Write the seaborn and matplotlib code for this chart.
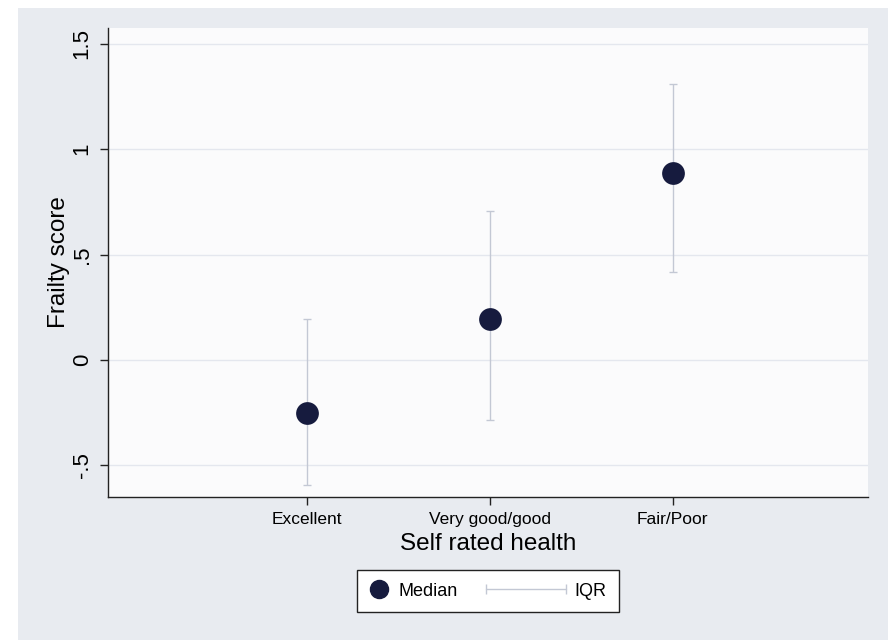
import pandas as pd
import matplotlib.pyplot as plt
import numpy as np
import seaborn as sns
from matplotlib.lines import Line2D
from matplotlib.legend_handler import HandlerBase

# Values
categories = ['Excellent', 'Very good/good', 'Fair/Poor']
median = [-0.255, 0.195, 0.885]
iqr_low = [-0.595, -0.285, 0.415]
iqr_high = [0.195, 0.705, 1.31]
y_ticks = [-0.5, 0, 0.5, 1, 1.5]
y_tick_labels = ['-.5', '0', '.5', '1', '1.5']

df = pd.DataFrame({'pos': np.arange(1, len(categories) + 1),
                   'category': categories, 'median': median,
                   'low': iqr_low, 'high': iqr_high})

sns.set_style('white')
plt.rcParams['font.family'] = ['Liberation Sans', 'DejaVu Sans']
plt.rcParams['text.color'] = 'black'
plt.rcParams['xtick.color'] = 'black'
plt.rcParams['ytick.color'] = 'black'
plt.rcParams['axes.labelcolor'] = 'black'

fig = plt.figure(figsize=(8.94, 6.4), dpi=100)
fig.patch.set_facecolor('white')

# grey Stata-style outer panel as a background axes
bg = fig.add_axes([18 / 894, 0, 870 / 894, 632 / 640], zorder=-1)
bg.set_facecolor('#e8ebf0')
bg.set_xticks([])
bg.set_yticks([])
for s in bg.spines.values():
    s.set_visible(False)

ax = fig.add_axes([108 / 894, 1 - 497 / 640, 760 / 894, 469 / 640])
ax.set_facecolor('#fbfbfc')

# IQR whiskers
ax.errorbar(df['pos'], df['median'],
            yerr=[df['median'] - df['low'], df['high'] - df['median']],
            fmt='none', ecolor='#c3c8d4', elinewidth=1, capsize=3,
            capthick=1, zorder=2)
sns.scatterplot(data=df, x='pos', y='median', ax=ax, s=230,
                color='#161b3e', edgecolor='#161b3e', zorder=3, legend=False)

ax.set_xlim(-0.09, 4.07)
ax.set_ylim(-0.652, 1.576)
ax.set_yticks(y_ticks)
ax.set_yticklabels(y_tick_labels, rotation=90, va='center', fontsize=16)
ax.set_xticks(df['pos'])
ax.set_xticklabels(categories, fontsize=12.5)
ax.grid(axis='y', color='#e4e7ee', lw=1)
ax.set_axisbelow(True)
ax.tick_params(axis='both', direction='out', length=6, width=1,
               color='#222222', left=True, bottom=True, pad=5)
ax.tick_params(axis='y', pad=5)
ax.set_xlabel('Self rated health', fontsize=17.5, labelpad=4)
ax.set_ylabel('Frailty score', fontsize=17.5, labelpad=1)

for side in ['top', 'right']:
    ax.spines[side].set_visible(False)
for side in ['left', 'bottom']:
    ax.spines[side].set_color('#222222')
    ax.spines[side].set_linewidth(1)


class HandlerLongLine(HandlerBase):
    # IQR key: a long capped line that reaches back into the column gap
    def create_artists(self, legend, orig_handle, xdescent, ydescent,
                       width, height, fontsize, trans):
        y = height / 2 - ydescent
        x0 = -xdescent - 3.3 * fontsize
        x1 = width - xdescent
        line = Line2D([x0, x1], [y, y], color='#c3c8d4', lw=1,
                      marker='|', markersize=7, markeredgewidth=1,
                      transform=trans)
        return [line]


med_handle = Line2D([], [], marker='o', linestyle='none', color='#161b3e',
                    markersize=13)
iqr_handle = Line2D([], [], color='#c3c8d4')
fig.legend([med_handle, iqr_handle], ['Median', 'IQR'], loc='center',
           bbox_to_anchor=(488 / 894, 1 - 591 / 640), ncol=2, numpoints=1,
           handler_map={iqr_handle: HandlerLongLine()},
           frameon=True, fancybox=False, edgecolor='#222222',
           facecolor='white', framealpha=1, fontsize=13,
           handlelength=1.1, columnspacing=4.9, handletextpad=0.5,
           borderpad=0.7)

fig.savefig('out.png', dpi=100, facecolor='white')
